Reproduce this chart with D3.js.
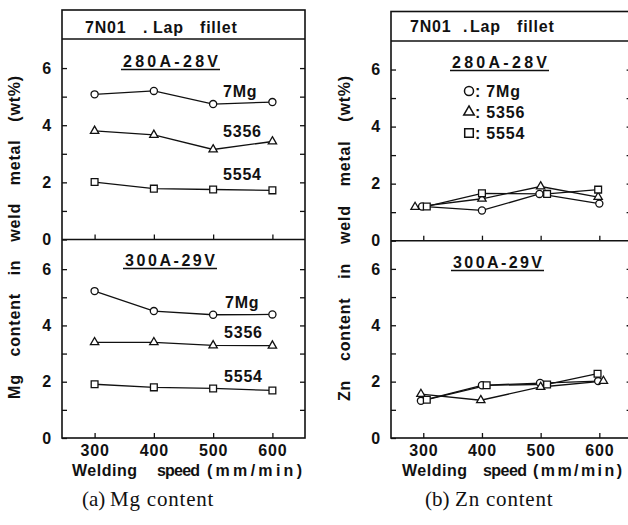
<!DOCTYPE html>
<html><head><meta charset="utf-8">
<script src="https://cdn.jsdelivr.net/npm/d3@7"></script>
<style>body{margin:0;background:#fff}</style>
</head><body><svg id="c" width="628" height="525" font-family="Liberation Sans, Arial, sans-serif"></svg>
<script>
// ---------------- data ----------------
const speeds = [300, 400, 500, 600];
const yTicks = [0, 1, 2, 3, 4, 5, 6];
const yLabels = [0, 2, 4, 6];
const alloys = ["7Mg", "5356", "5554"];
const headerWords = ["7N01", ".", "Lap", "fillet"];
const condTop = "280A-28V";
const condBot = "300A-29V";
const xTitleWords = ["Welding", "speed", "(mm/min)"];
const yTitleMg = "Mg content in weld metal (wt%)";
const yTitleZn = "Zn content in weld metal (wt%)";
const captions = [["(a)", "Mg content"], ["(b)", "Zn content"]];

// Mg content (wt%)
const mg280_7Mg  = [5.08, 5.20, 4.74, 4.81];
const mg280_5356 = [3.80, 3.66, 3.15, 3.43];
const mg280_5554 = [2.01, 1.78, 1.75, 1.72];
const mg300_7Mg  = [5.22, 4.51, 4.38, 4.39];
const mg300_5356 = [3.40, 3.40, 3.29, 3.28];
const mg300_5554 = [1.91, 1.80, 1.76, 1.69];
// Zn content (wt%)
const zn280_7Mg  = [1.20, 1.06, 1.64, 1.30];
const zn280_5356 = [1.18, 1.47, 1.90, 1.53];
const zn280_5554 = [1.20, 1.66, 1.64, 1.79];
const zn300_7Mg  = [1.32, 1.87, 1.95, 2.02];
const zn300_5356 = [1.56, 1.34, 1.81, 2.02];
const zn300_5554 = [1.36, 1.87, 1.90, 2.28];
// plotted speeds in the Zn panel (points staggered in the original to avoid overlap)
const zn280_7Mg_x  = [298, 400, 498, 600];
const zn280_5356_x = [286, 400, 500, 598];
const zn280_5554_x = [306, 400, 511, 598];
const zn300_7Mg_x  = [296, 400, 499, 598];
const zn300_5356_x = [296, 398, 500, 607];
const zn300_5554_x = [306, 408, 511, 597];

// ---------------- drawing ----------------
const svg = d3.select("#c");
const FONT = "Liberation Sans, Arial, sans-serif";
const SERIF = "Liberation Serif, Times New Roman, serif";
const symType = {"7Mg": d3.symbolCircle, "5356": d3.symbolTriangle, "5554": d3.symbolSquare};
const symSize = {"7Mg": 40, "5356": 30, "5554": 46};

const panels = [
  {x0: 62, x1: 305, top: 10, header: 39, mid: 239.5, bottom: 438,
   topRange: [239.5, 39.5], botRange: [438, 241],
   headerX: [85, 143, 153, 200], headerY: 33,
   condTopPos: [123, 67, 95], condBotPos: [125, 266, 90],
   xTitleX: [72, 157, 207], xTitleW: [65, 43, 95],
   yTitle: yTitleMg, yTitleX: 20, yTitleSpan: [75, 399],
   caption: captions[0], capX: [82, 110],
   plots: [
     {cond: "top", series: [
       {name: "7Mg", x: speeds, y: mg280_7Mg, lab: [223, 96.5]},
       {name: "5356", x: speeds, y: mg280_5356, lab: [223, 136.5]},
       {name: "5554", x: speeds, y: mg280_5554, lab: [223, 180]}]},
     {cond: "bot", series: [
       {name: "7Mg", x: speeds, y: mg300_7Mg, lab: [225, 308]},
       {name: "5356", x: speeds, y: mg300_5356, lab: [224, 338]},
       {name: "5554", x: speeds, y: mg300_5554, lab: [224, 381.5]}]}
   ]},
  {x0: 391, x1: 631.6, top: 11.5, header: 41, mid: 240.7, bottom: 438,
   topRange: [240.7, 41], botRange: [438, 240.7],
   headerX: [410, 463, 470, 517], headerY: 32,
   condTopPos: [452, 68, 95], condBotPos: [453, 268, 89],
   xTitleX: [402, 483, 533], xTitleW: [65, 44, 89],
   yTitle: yTitleZn, yTitleX: 350, yTitleSpan: [75, 401],
   caption: captions[1], capX: [425, 455],
   legend: true,
   plots: [
     {cond: "top", series: [
       {name: "7Mg", x: zn280_7Mg_x, y: zn280_7Mg},
       {name: "5356", x: zn280_5356_x, y: zn280_5356},
       {name: "5554", x: zn280_5554_x, y: zn280_5554}]},
     {cond: "bot", series: [
       {name: "7Mg", x: zn300_7Mg_x, y: zn300_7Mg},
       {name: "5356", x: zn300_5356_x, y: zn300_5356},
       {name: "5554", x: zn300_5554_x, y: zn300_5554}]}
   ]}
];

function styleAxis(g) {
  g.select(".domain").remove();
  g.attr("font-family", FONT).attr("font-size", 16).attr("font-weight", "bold");
  g.selectAll("line").attr("stroke", "#111").attr("stroke-width", 1.3);
  g.selectAll("text").attr("fill", "#111").attr("letter-spacing", 0.8);
}

panels.forEach(p => {
  const g = svg.append("g");
  const x = d3.scaleLinear().domain([245, 655]).range([p.x0, p.x1]);

  p.plots.forEach(pl => {
    const isTop = pl.cond === "top";
    const y = d3.scaleLinear().domain([0, 7]).range(isTop ? p.topRange : p.botRange);
    const y0 = y(0);

    g.append("g").attr("transform", `translate(${p.x0},0)`)
      .call(d3.axisLeft(y).tickValues(yTicks).tickSize(-5).tickPadding(10)
        .tickFormat(d => yLabels.includes(d) ? d : ""))
      .call(styleAxis);
    g.append("g").attr("transform", `translate(${p.x1},0)`)
      .call(d3.axisRight(y).tickValues(yTicks.filter(d => d > 0)).tickSize(-5).tickFormat(""))
      .call(styleAxis);
    g.append("g").attr("transform", `translate(0,${y0})`)
      .call(d3.axisBottom(x).tickValues(speeds).tickSize(-5).tickPadding(7)
        .tickFormat(d => isTop ? "" : d))
      .call(styleAxis);

    const cp = isTop ? p.condTopPos : p.condBotPos;
    g.append("text").attr("x", cp[0]).attr("y", cp[1])
      .attr("font-size", 16).attr("font-weight", "bold").attr("fill", "#111")
      .attr("textLength", cp[2]).attr("lengthAdjust", "spacing")
      .text(isTop ? condTop : condBot);
    g.append("line").attr("x1", cp[0] - 2).attr("x2", cp[0] + cp[2] + 2)
      .attr("y1", cp[1] + 2.5).attr("y2", cp[1] + 2.5)
      .attr("stroke", "#111").attr("stroke-width", 1.3);

    const line = d3.line().x(d => x(d[0])).y(d => y(d[1]));
    pl.series.forEach(s => {
      const pts = s.x.map((v, i) => [v, s.y[i]]);
      g.append("path").datum(pts).attr("d", line)
        .attr("fill", "none").attr("stroke", "#111").attr("stroke-width", 1.3);
    });
    pl.series.forEach(s => {
      const pts = s.x.map((v, i) => [v, s.y[i]]);
      g.selectAll(null).data(pts).enter().append("path")
        .attr("transform", d => `translate(${x(d[0])},${y(d[1])})`)
        .attr("d", d3.symbol().type(symType[s.name]).size(symSize[s.name]))
        .attr("fill", "#fff").attr("stroke", "#111").attr("stroke-width", 1.3);
      if (s.lab) {
        g.append("text").attr("x", s.lab[0]).attr("y", s.lab[1])
          .attr("font-size", 16).attr("font-weight", "bold").attr("fill", "#111")
          .attr("letter-spacing", 0.8).text(s.name);
      }
    });
  });

  g.append("rect").attr("x", p.x0).attr("y", p.top)
    .attr("width", p.x1 - p.x0).attr("height", p.bottom - p.top)
    .attr("fill", "none").attr("stroke", "#111").attr("stroke-width", 1.6);
  g.append("line").attr("x1", p.x0).attr("x2", p.x1).attr("y1", p.header).attr("y2", p.header)
    .attr("stroke", "#111").attr("stroke-width", 1.6);
  g.append("line").attr("x1", p.x0).attr("x2", p.x1).attr("y1", p.mid).attr("y2", p.mid)
    .attr("stroke", "#111").attr("stroke-width", 1.6);

  const ht = g.append("text").attr("y", p.headerY).attr("font-size", 16)
    .attr("font-weight", "bold").attr("fill", "#111").attr("letter-spacing", 0.8);
  headerWords.forEach((w, i) => ht.append("tspan").attr("x", p.headerX[i]).text(w));

  if (p.legend) {
    alloys.forEach((a, i) => {
      const ly = [91, 112, 133][i];
      g.append("path").attr("transform", `translate(469,${ly})`)
        .attr("d", d3.symbol().type(symType[a]).size(symSize[a] * 1.6))
        .attr("fill", "#fff").attr("stroke", "#111").attr("stroke-width", 1.5);
      g.append("text").attr("x", 475).attr("y", ly + 6)
        .attr("font-size", 16).attr("font-weight", "bold").attr("fill", "#111")
        .attr("letter-spacing", 0.8).attr("style", "white-space:pre").text(": " + a);
    });
  }

  const xt = g.append("text").attr("y", 476).attr("font-size", 16)
    .attr("font-weight", "bold").attr("fill", "#111");
  xTitleWords.forEach((w, i) => xt.append("tspan").attr("x", p.xTitleX[i])
    .attr("textLength", p.xTitleW[i]).attr("lengthAdjust", "spacing").text(w));

  const span = p.yTitleSpan;
  const cy = (span[0] + span[1]) / 2;
  const yt = g.append("text")
    .attr("transform", `translate(${p.yTitleX},${cy}) rotate(-90)`)
    .attr("text-anchor", "middle").attr("font-size", 16).attr("font-weight", "bold")
    .attr("fill", "#111").attr("letter-spacing", 0.8).text(p.yTitle);
  const natural = yt.node().getComputedTextLength();
  const gaps = p.yTitle.split(" ").length - 1;
  yt.attr("word-spacing", Math.max(0, (span[1] - span[0] - natural) / gaps));

  const ct = g.append("text").attr("y", 506).attr("font-size", 21).attr("fill", "#111")
    .attr("font-family", SERIF);
  ct.append("tspan").attr("x", p.capX[0]).text(p.caption[0]);
  ct.append("tspan").attr("x", p.capX[1]).attr("letter-spacing", 0.8).text(p.caption[1]);
});
</script></body></html>
